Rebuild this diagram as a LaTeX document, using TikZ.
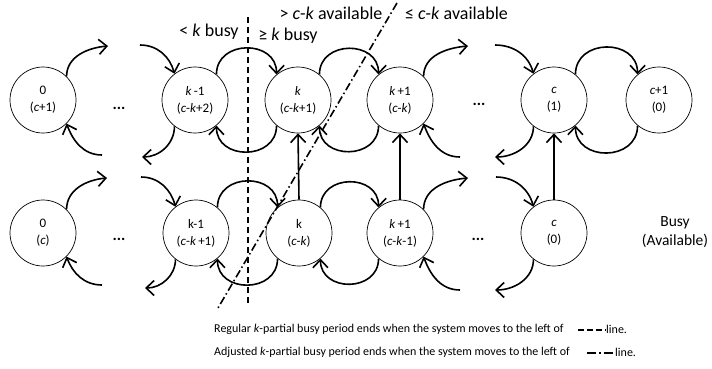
\documentclass[tikz,border=0pt]{standalone}
\usepackage{fontspec}
\setmainfont{Carlito}
\usetikzlibrary{arrows.meta}
\begin{document}
\begin{tikzpicture}[x=1pt,y=-1pt,
  state/.style={circle,draw,line width=0.7pt,minimum size=66pt,inner sep=0pt,
    align=center,font=\fontsize{13}{17}\selectfont},
  flow/.style={line width=1.6pt,-{Straight Barb[length=8pt,width=15pt,line width=1.6pt]}},
  arcup/.style={flow,out=90,in=90,looseness=1.5},
  arcdown/.style={flow,out=270,in=270,looseness=1.5},
  dots/.style={font=\fontsize{16}{16}\selectfont\bfseries},
  boundary/.style={line width=1.6pt,dash pattern=on 6pt off 4pt},
  adjusted/.style={line width=1.6pt,dash pattern=on 8pt off 3pt on 1.5pt off 3pt},
  lbl/.style={font=\fontsize{18}{18}\selectfont,inner sep=0pt},
  legend/.style={font=\fontsize{12}{14}\selectfont,inner sep=0pt,anchor=west}]
\useasboundingbox (0,0) rectangle (712,368);

% busy-server chain (upper row)
\node[state] (T0)  at (43,100)  {0\\(\textit{c}+1)};
\node[state] (Tk1) at (195,100) {\textit{k}\,-1\\(\textit{c}-\textit{k}+2)};
\node[state] (Tk)  at (298,100) {\textit{k}\\(\textit{c}-\textit{k}+1)};
\node[state] (Tkp) at (400,100) {\textit{k}\,+1\\(\textit{c}-\textit{k})};
\node[state] (Tc)  at (554,100) {\textit{c}\\(1)};
\node[state] (Tc1) at (659,100) {\textit{c}+1\\(0)};

% lower row
\node[state] (B0)  at (43,233)  {0\\(\textit{c})};
\node[state] (Bk1) at (196,233) {k-1\\(\textit{c}-\textit{k}\,+1)};
\node[state] (Bk)  at (299,233) {k\\(\textit{c}-\textit{k})};
\node[state] (Bkp) at (400,233) {\textit{k}\,+1\\(\textit{c}-\textit{k}-1)};
\node[state] (Bc)  at (554,233) {\textit{c}\\(0)};

\node[dots] (d1) at (119,108) {...};
\node[dots] (d2) at (479,104) {...};
\node[dots] (d3) at (119,239) {...};
\node[dots] (d4) at (478,239) {...};

\node[font=\fontsize{15.5}{19}\selectfont,align=center] (key) at (675,232) {Busy\\(Available)};

% free ends of the broken transitions
\coordinate (ta1) at (108,46);  \coordinate (ta2) at (140,45);
\coordinate (ta3) at (468,46);  \coordinate (ta4) at (495,45);
\coordinate (tb1) at (142,157); \coordinate (tb2) at (102,155);
\coordinate (tb3) at (495,157); \coordinate (tb4) at (460,157);
\coordinate (ba1) at (107,178); \coordinate (ba2) at (141,177);
\coordinate (ba3) at (468,178); \coordinate (ba4) at (496,177);
\coordinate (bb1) at (145,288); \coordinate (bb2) at (102,285);
\coordinate (bb3) at (495,290); \coordinate (bb4) at (460,290);

% upper row transitions
\draw[flow] (T0.45) to[out=90,in=185] (ta1);
\draw[flow] (ta2) to[out=0,in=105] (Tk1.128);
\draw[arcup] (Tk1.50) to (Tk.130);
\draw[arcup] (Tk.50) to (Tkp.130);
\draw[flow] (Tkp.45) to[out=90,in=185] (ta3);
\draw[flow] (ta4) to[out=0,in=105] (Tc.128);
\draw[arcup] (Tc.50) to (Tc1.130);

\draw[flow] (Tk1.232) to[out=270,in=0] (tb1);
\draw[flow] (tb2) to[out=180,in=290] (T0.315);
\draw[arcdown] (Tk.230) to (Tk1.310);
\draw[arcdown] (Tkp.230) to (Tk.310);
\draw[flow] (Tc.232) to[out=270,in=0] (tb3);
\draw[flow] (tb4) to[out=180,in=290] (Tkp.315);
\draw[arcdown] (Tc1.230) to (Tc.310);

% lower row transitions
\draw[flow] (B0.45) to[out=90,in=185] (ba1);
\draw[flow] (ba2) to[out=0,in=105] (Bk1.128);
\draw[arcup] (Bk1.50) to (Bk.130);
\draw[arcup] (Bk.50) to (Bkp.130);
\draw[flow] (Bkp.45) to[out=90,in=185] (ba3);
\draw[flow] (ba4) to[out=0,in=105] (Bc.128);

\draw[flow] (Bk1.232) to[out=270,in=0] (bb1);
\draw[flow] (bb2) to[out=180,in=290] (B0.315);
\draw[arcdown] (Bk.230) to (Bk1.310);
\draw[arcdown] (Bkp.230) to (Bk.310);
\draw[flow] (Bc.232) to[out=270,in=0] (bb3);
\draw[flow] (bb4) to[out=180,in=290] (Bkp.315);

% transitions between the rows
\draw[flow] (Bk.north) -- (Tk.south);
\draw[flow] (Bkp.north) -- (Tkp.south);
\draw[flow] (Bc.north) -- (Tc.south);

% boundary lines
\coordinate (v1) at (248,17);  \coordinate (v2) at (248,303);
\coordinate (s1) at (397,3);   \coordinate (s2) at (218,308);
\draw[boundary] (v1) -- (v2);
\draw[adjusted] (s1) -- (s2);

\node[lbl] (lb1) at (209,32) {< \textit{k} busy};
\node[lbl] (lb2) at (288,36) {≥ \textit{k} busy};
\node[lbl] (lb3) at (331,13) {> \textit{c}-\textit{k} available};
\node[lbl,anchor=west] (lb4) at (405,13) {≤ \textit{c}-\textit{k} available};

% legend
\node[legend] (g1) at (214,329) {Regular \textit{k}-partial busy period ends when the system moves to the left of};
\coordinate (g1a) at (578,330); \coordinate (g1b) at (606,330);
\draw[line width=1.6pt,dash pattern=on 6pt off 3pt] (g1a) -- (g1b);
\node[legend] (g1l) at (606,329) {line.};
\node[legend] (g2) at (214,352) {Adjusted \textit{k}-partial busy period ends when the system moves to the left of};
\coordinate (g2a) at (587,353); \coordinate (g2b) at (615,353);
\draw[line width=1.6pt,dash pattern=on 9pt off 3pt on 1.5pt off 3pt] (g2a) -- (g2b);
\node[legend] (g2l) at (615,352) {line.};
\end{tikzpicture}
\end{document}
